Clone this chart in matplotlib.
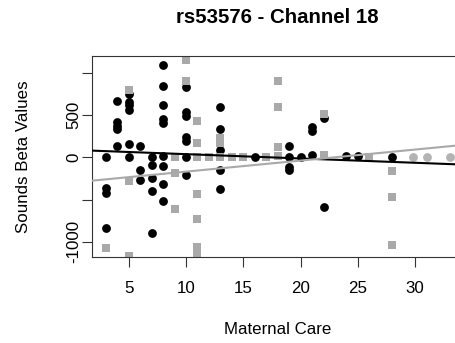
import matplotlib
matplotlib.use("Agg")
import matplotlib.pyplot as plt

plt.rcParams['font.family'] = ['Liberation Sans', 'DejaVu Sans']

# ---- data ----
black_x = [3, 3, 3, 3,
           4, 4, 4, 4, 4,
           5, 5, 5, 5, 5, 5,
           6, 6, 6,
           7, 7, 7, 7, 7,
           8, 8, 8, 8, 8, 8, 8, 8, 8,
           10, 10, 10, 10, 10, 10, 10,
           13, 13, 13, 13, 13,
           16,
           19, 19, 19, 19,
           20,
           21, 21, 21,
           22, 22,
           24, 25, 28]
black_y = [0, -360, -420, -835,
           670, 420, 370, 330, 135,
           745, 655, 615, 560, 160, 0,
           135, -150, -265,
           0, -90, -250, -395, -900,
           1090, 840, 615, 450, 405, 10, -105, -320, -520,
           835, 535, 485, 235, 195, 5, -210,
           600, 330, 90, -150, -375,
           0,
           130, 5, -110, -155,
           0,
           360, 305, 25,
           460, -585,
           10, 10, 0]

gray_sq_x = [3,
             5, 5, 5,
             9, 9, 9,
             10, 10,
             11, 11, 11, 11, 11, 11, 11,
             12,
             13, 13, 13,
             14, 15, 17,
             18, 18, 18, 18,
             22, 22,
             26,
             28, 28, 28]
gray_sq_y = [-1075,
             790, -285, -1170,
             0, -180, -610,
             1150, 900,
             430, 170, 0, -430, -730, -1060, -1130,
             0,
             230, 170, 5,
             0, 0, 0,
             900, 600, 120, 20,
             515, 25,
             0,
             -160, -465, -1035]

gray_circ_x = [29.8, 31, 33]
gray_circ_y = [0, 0, 0]

# fitted lines (intercept, slope)
black_fit = (88.0, -5.1)
gray_fit = (-300.0, 13.05)

x_ticks = [5, 10, 15, 20, 25, 30]
x_tick_labels = ['5', '10', '15', '20', '25', '30']
y_ticks = [-1000, -500, 0, 500, 1000]
y_tick_labels = ['-1000', '', '0', '500', '']

title = 'rs53576 - Channel 18'
x_label = 'Maternal Care'
y_label = 'Sounds Beta Values'

# ---- figure ----
W, H = 455, 343
fig = plt.figure(figsize=(W / 100, H / 100), dpi=100)
left, right, top, bottom = 92, 463.4, 56, 257.3
ax = fig.add_axes([left / W, (H - bottom) / H, (right - left) / W, (bottom - top) / H])

gray = '#A9A9A9'
ax.scatter(black_x, black_y, s=40, c='black', marker='o', linewidths=0, zorder=2)
ax.scatter(gray_sq_x, gray_sq_y, s=28, c=gray, marker='s', linewidths=0, zorder=2.1)
ax.scatter(gray_circ_x, gray_circ_y, s=40, c='#B3B3B3', marker='o', linewidths=0, zorder=2.1)

ax.axline((0, black_fit[0]), slope=black_fit[1], color='black', lw=1.5, zorder=3)
ax.axline((0, gray_fit[0]), slope=gray_fit[1], color=gray, lw=1.5, zorder=3)

ax.set_xlim(1.8, 34.2)
ax.set_ylim(-1182, 1197)

ax.set_xticks(x_ticks, x_tick_labels)
ax.set_yticks(y_ticks, y_tick_labels)
ax.tick_params(axis='both', length=7.2, width=0.8, color='#333333', labelsize=12.2)
ax.tick_params(axis='x', pad=10)
ax.tick_params(axis='y', pad=2.9)
for lbl in ax.get_yticklabels():
    lbl.set_rotation(90)
    lbl.set_rotation_mode('anchor')
    lbl.set_ha('center')
    lbl.set_va('baseline')

for sp in ax.spines.values():
    sp.set_linewidth(0.8)
    sp.set_color('#333333')

fig.text(277.5 / W, (H - 23.3) / H, title, ha='center', va='baseline',
         fontsize=14.7, fontweight='bold')
fig.text(277.5 / W, (H - 334) / H, x_label, ha='center', va='baseline', fontsize=12.2)
fig.text(28 / W, (H - 156.5) / H, y_label, ha='center', va='baseline', rotation=90,
         rotation_mode='anchor', fontsize=12.2)

fig.savefig('out.png', dpi=100)
